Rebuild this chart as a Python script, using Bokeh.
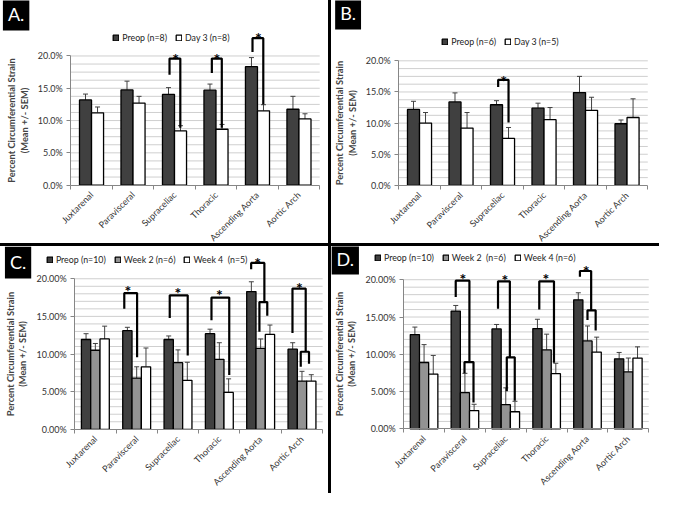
import math
from bokeh.plotting import figure
from bokeh.models import (Range1d, FixedTicker, NumeralTickFormatter, Whisker, TeeHead,
                          ColumnDataSource, Legend, LegendItem, Label, Div)
from bokeh.layouts import row, column
from bokeh.embed import file_html
from bokeh.resources import INLINE
from bokeh.core.properties import value

# ---------------- data (percent) ----------------
categories = ["Juxtarenal", "Paravisceral", "Supraceliac", "Thoracic", "Ascending Aorta", "Aortic Arch"]

# Panel A
a_names = ["Preop (n=8)", "Day 3 (n=8)"]
a_preop = [13.2, 14.75, 14.05, 14.7, 18.35, 11.75]
a_preop_sem = [0.9, 1.35, 1.05, 0.95, 1.4, 2.0]
a_day3 = [11.2, 12.7, 8.4, 8.65, 11.5, 10.25]
a_day3_sem = [0.9, 1.05, 0.8, 0.75, 0.95, 0.8]
# brackets: (x_left, x_right, y_left_bottom, y_top, y_right_bottom)
a_brackets = [(2.38, 2.64, 17.1, 19.6, 8.9), (3.40, 3.64, 17.35, 19.6, 8.9),
              (4.38, 4.64, 20.6, 22.75, 12.5)]
a_stars = [(2.53, 20.4), (3.52, 20.4), (4.52, 23.6)]

# Panel B
b_names = ["Preop (n=6)", "Day 3 (n=5)"]
b_preop = [12.2, 13.4, 12.95, 12.4, 14.9, 9.9]
b_preop_sem = [1.3, 1.45, 0.65, 0.8, 2.6, 0.6]
b_day3 = [10.0, 9.2, 7.55, 10.55, 12.05, 10.9]
b_day3_sem = [1.7, 2.5, 1.75, 1.95, 2.1, 3.0]
b_brackets = [(2.395, 2.645, 15.8, 16.95, 10.1)]
b_stars = [(2.53, 17.65)]

# Panel C
c_names = ["Preop (n=10)", "Week 2 (n=6)", "Week 4  (n=5)"]
c_preop = [11.93, 13.1, 11.93, 12.7, 18.3, 10.65]
c_preop_sem = [0.77, 0.45, 0.47, 0.6, 1.3, 0.85]
c_w2 = [10.5, 6.8, 8.85, 9.3, 10.75, 6.4]
c_w2_sem = [0.9, 1.5, 1.7, 2.2, 1.25, 1.3]
c_w4 = [12.0, 8.3, 6.5, 4.9, 12.6, 6.4]
c_w4_sem = [1.7, 2.5, 2.4, 1.8, 1.25, 0.85]
c_brackets = [(1.20, 1.51, 16.0, 18.1, 9.56), (2.30, 2.735, 14.8, 17.8, 9.8),
              (3.31, 3.74, 14.5, 17.5, 7.2), (4.27, 4.59, 21.25, 22.1, 16.9),
              (4.47, 4.66, 12.95, 16.9, 15.1), (5.27, 5.59, 12.8, 18.7, 10.3),
              (5.47, 5.67, 8.3, 10.3, 8.7)]
c_stars = [(1.29, 19.1), (2.50, 18.9), (3.50, 18.55), (4.43, 22.85), (5.44, 19.5)]

# Panel D
d_names = ["Preop (n=10)", "Week 2  (n=6)", "Week 4 (n=6)"]
d_preop = [12.65, 15.8, 13.4, 13.45, 17.3, 9.4]
d_preop_sem = [1.0, 0.75, 0.6, 1.25, 0.95, 0.85]
d_w2 = [8.9, 4.85, 3.25, 10.6, 11.8, 7.65]
d_w2_sem = [2.4, 2.6, 2.25, 2.1, 2.0, 1.85]
d_w4 = [7.35, 2.45, 2.3, 7.4, 10.3, 9.5]
d_w4_sem = [2.5, 0.85, 1.4, 1.4, 2.0, 1.5]
d_brackets = [(1.275, 1.61, 17.7, 19.87, 8.96), (1.49, 1.71, 7.45, 8.96, 3.55),
              (2.31, 2.60, 16.1, 19.78, 9.6), (2.525, 2.72, 5.06, 9.6, 3.77),
              (3.32, 3.68, 16.0, 19.78, 8.87), (4.315, 4.59, 20.4, 21.17, 15.9),
              (4.50, 4.70, 14.6, 15.9, 13.2)]
d_stars = [(1.45, 20.8), (2.48, 20.65), (3.48, 20.8), (4.47, 21.95)]

y_major = [0, 5, 10, 15, 20]

# ---------------- styling / layout ----------------
SX = 659 / 675
SY = 493 / 509
FONT = "Lato"
DARK = "#404040"
MID = "#939393"
AXIS = "#868686"
GRID = "#cfcfcf"
NCAT = len(categories)


def make_panel(names, means, sems, colors, brackets, stars, tag, fmt, minor_step,
               geom, legend_xy, tag_xy, bar_w):
    # geom in reference pixels (panel-local): W, H, left(x=0), right(x=6), top of 20%, bottom(0%)
    W, H, L, R, T20, B = geom
    width, height = round(W * SX), round(H * SY)
    kx = NCAT / (R - L)
    ky = 20.0 / (B - T20)
    x_lo, x_hi = -L * kx, NCAT + (W - R) * kx
    y_lo, y_hi = -(H - B) * ky, 20 + T20 * ky
    p = figure(width=width, height=height, x_range=Range1d(x_lo, x_hi),
               y_range=Range1d(y_lo / 100, y_hi / 100),
               output_backend="svg", toolbar_location=None,
               min_border_left=0, min_border_right=0, min_border_top=0, min_border_bottom=0,
               background_fill_color="white", border_fill_color="white",
               outline_line_color=None, margin=0)
    p.xgrid.visible = False
    p.ygrid.visible = False

    # grid lines (major + minor), limited to the plot area
    levels = []
    v = minor_step
    while v <= 20.0001:
        levels.append(round(v, 4) / 100)
        v += minor_step
    p.segment(x0=[0] * len(levels), x1=[NCAT] * len(levels), y0=levels, y1=levels,
              line_color=GRID, line_width=1, level="underlay")

    n = len(names)
    offsets = [(k - (n - 1) / 2) * bar_w for k in range(n)]
    items = []
    for k in range(n):
        xs = [i + 0.5 + offsets[k] for i in range(NCAT)]
        tops = [m / 100 for m in means[k]]
        uppers = [(m + s) / 100 for m, s in zip(means[k], sems[k])]
        src = ColumnDataSource(dict(x=xs, top=tops, upper=uppers))
        w = Whisker(base="x", lower="top", upper="upper", source=src, dimension="height",
                    line_color=DARK, line_width=1, lower_head=None,
                    upper_head=TeeHead(size=5, line_color=DARK, line_width=1))
        p.add_layout(w)
        r = p.vbar(x="x", top="top", bottom=0, width=bar_w, source=src,
                   fill_color=colors[k], line_color="black", line_width=1.3)
        items.append(LegendItem(label=names[k], renderers=[r]))

    # significance brackets
    bxs = [[b[0], b[0], b[1], b[1]] for b in brackets]
    bys = [[b[2] / 100, b[3] / 100, b[3] / 100, b[4] / 100] for b in brackets]
    p.multi_line(xs=bxs, ys=bys, line_color="black", line_width=2.2)
    p.text(x=[s[0] for s in stars], y=[s[1] / 100 for s in stars], text=["*"] * len(stars),
           text_font=value(FONT), text_font_style="bold", text_font_size="16px",
           text_align="center", text_baseline="middle", y_offset=5, text_color="black")

    # y axis (drawn at x = 0 inside the canvas)
    yt = FixedTicker(ticks=[t / 100 for t in y_major], minor_ticks=[])
    p.yaxis.ticker = yt
    p.yaxis.fixed_location = 0
    p.yaxis.bounds = (0, 0.2)
    p.yaxis.formatter = NumeralTickFormatter(format=fmt)
    p.yaxis.axis_line_color = AXIS
    p.yaxis.major_tick_line_color = AXIS
    p.yaxis.major_tick_in = 0
    p.yaxis.major_tick_out = 4
    p.yaxis.minor_tick_line_color = None
    p.yaxis.major_label_standoff = 4
    p.yaxis.major_label_text_font = FONT
    p.yaxis.major_label_text_font_size = "9px"
    p.yaxis.major_label_text_color = "#333333"
    p.yaxis.axis_label = "Percent Circumferential Strain\n(Mean +/- SEM)"
    p.yaxis.axis_label_text_font = FONT
    p.yaxis.axis_label_text_font_style = "bold"
    p.yaxis.axis_label_text_font_size = "9.3px"
    p.yaxis.axis_label_text_line_height = 1.1
    p.yaxis.axis_label_standoff = 5

    # x axis (drawn at y = 0)
    p.xaxis.ticker = FixedTicker(ticks=[i + 0.5 for i in range(NCAT)],
                                 minor_ticks=list(range(NCAT + 1)))
    p.xaxis.fixed_location = 0
    p.xaxis.bounds = (0, NCAT)
    p.xaxis.major_label_overrides = {i + 0.5: c for i, c in enumerate(categories)}
    p.xaxis.major_label_orientation = math.pi / 4
    p.xaxis.major_tick_line_color = None
    p.xaxis.major_tick_in = 0
    p.xaxis.major_tick_out = 0
    p.xaxis.minor_tick_line_color = AXIS
    p.xaxis.minor_tick_in = 0
    p.xaxis.minor_tick_out = 4
    p.xaxis.axis_line_color = AXIS
    p.xaxis.major_label_standoff = 4
    p.xaxis.major_label_text_font = FONT
    p.xaxis.major_label_text_font_size = "9px"
    p.xaxis.major_label_text_color = "#333333"

    leg = Legend(items=items, location=(legend_xy[0] * SX, (H - legend_xy[1]) * SY),
                 orientation="horizontal",
                 glyph_width=7, glyph_height=7, label_standoff=3, spacing=8,
                 padding=0, margin=0, background_fill_alpha=0, border_line_color=None,
                 label_text_font=FONT, label_text_font_size="8.8px",
                 label_text_color="#222222", label_height=9)
    p.add_layout(leg)

    p.add_layout(Label(x=tag_xy[0] * SX, y=(H - tag_xy[1]) * SY, x_units="screen", y_units="screen",
                       text=tag, text_color="white", text_font=FONT, text_font_size="18px",
                       text_align="center", text_baseline="middle",
                       background_fill_color="black", padding=5))
    return p


# panel geometry (reference px, panel-local): W, H, x0px, x6px, y20px, y0px
pA = make_panel(a_names, [a_preop, a_day3], [a_preop_sem, a_day3_sem], [DARK, "white"],
                a_brackets, a_stars, "A.", "0.0%", 1.25,
                (336, 251, 72, 327, 57.3, 190.7), (115, 44), (16, 14.5), 0.29)

pB = make_panel(b_names, [b_preop, b_day3], [b_preop_sem, b_day3_sem], [DARK, "white"],
                b_brackets, b_stars, "B.", "0.0%", 1.25,
                (336, 251, 68.9, 324, 62.3, 191), (113, 49), (17, 13.5), 0.29)

pC = make_panel(c_names, [c_preop, c_w2, c_w4], [c_preop_sem, c_w2_sem, c_w4_sem], [DARK, MID, "white"],
                c_brackets, c_stars, "C.", "0.00%", 1.0,
                (336, 255, 76, 330, 33.3, 188.7), (47, 20), (18, 16.5), 0.225)

pD = make_panel(d_names, [d_preop, d_w2, d_w4], [d_preop_sem, d_w2_sem, d_w4_sem], [DARK, MID, "white"],
                d_brackets, d_stars, "D.", "0.00%", 1.0,
                (336, 255, 73.9, 325, 34.3, 188.3), (44, 18), (14, 12.5), 0.225)

SEP = {"background-color": "black"}
v1 = Div(width=3, height=pA.height, styles=SEP, margin=0)
v2 = Div(width=3, height=pC.height, styles=SEP, margin=0)
h1 = Div(width=pA.width + 3 + pB.width, height=3, styles=SEP, margin=0)

layout = column(row(pA, v1, pB, margin=0), h1, row(pC, v2, pD, margin=0), margin=0)

open("out.html", "w").write(file_html(layout, INLINE))
